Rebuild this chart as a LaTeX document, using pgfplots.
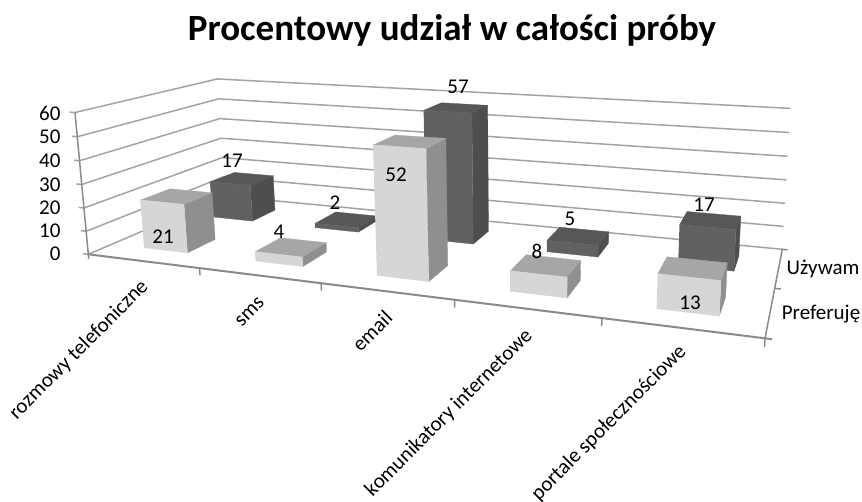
\documentclass[border=0pt]{standalone}
\usepackage{fontspec}
\setmainfont{Carlito}
\usepackage{pgfplots}
\pgfplotsset{compat=1.18}
% perspective projection: (category u 0..5, depth v 0..2, value h 0..60) -> picture position
\newcommand\PW[3]{(1-0.042614*(#1)+0.110105*(#2)-0.0005*(#3))}
\newcommand\PX[3]{((88.3+102.74*(#1)+92.94*(#2)-0.25917*(#3))/\PW{#1}{#2}{#3})}
\newcommand\PY[3]{((254.3+2.384*(#1)-7.57*(#2)-2.4197*(#3))/\PW{#1}{#2}{#3})}
\pgfplotsset{table/project/.style={row sep=\\,
  x expr={\PX{\thisrow{u}}{\thisrow{v}}{\thisrow{h}}},
  y expr={\PY{\thisrow{u}}{\thisrow{v}}{\thisrow{h}}}}}
\newcommand\face[5]{\addplot[fill=#4,draw=#4,line width=0.3pt,forget plot] table[row sep=\\,
  x expr={\PX{#1+\thisrow{a}}{#2+\thisrow{b}}{#3*\thisrow{c}}},
  y expr={\PY{#1+\thisrow{a}}{#2+\thisrow{b}}{#3*\thisrow{c}}}]{#5};}
% \barbox{category}{series depth}{value}{front}{right}{top}
\newcommand\barbox[6]{%
  \face{#1}{#2}{#3}{#5}{a b c\\ 0.7 0.3 0\\ 0.7 0.7 0\\ 0.7 0.7 1\\ 0.7 0.3 1\\}
  \face{#1}{#2}{#3}{#6}{a b c\\ 0.3 0.3 1\\ 0.7 0.3 1\\ 0.7 0.7 1\\ 0.3 0.7 1\\}
  \face{#1}{#2}{#3}{#4}{a b c\\ 0.3 0.3 0\\ 0.7 0.3 0\\ 0.7 0.3 1\\ 0.3 0.3 1\\}
}
\newcommand\gridat[1]{\addplot[gridc,line width=1.5pt,forget plot] table[project]{u v h\\ 5 2 #1\\ 0 2 #1\\ 0 0 #1\\ -0.05 0 #1\\};}
\definecolor{gridc}{HTML}{A3A3A3}
\definecolor{axc}{HTML}{8A8A8A}
\definecolor{lf}{HTML}{D6D6D6}
\definecolor{lr}{HTML}{8F8F8F}
\definecolor{lt}{HTML}{A6A6A6}
\definecolor{df}{HTML}{616161}
\definecolor{dr}{HTML}{4E4E4E}
\definecolor{dt}{HTML}{575757}
\definecolor{txt}{HTML}{3A3A3A}
\newcommand\fs{\fontsize{21}{21}\selectfont}
\begin{document}
\begin{tikzpicture}[x=1pt,y=1pt]
\path[use as bounding box,clip] (0,0) rectangle (862,501);
\begin{axis}[at={(0,0)},anchor=south west,scale only axis,width=862pt,height=501pt,
  xmin=0,xmax=862,ymin=0,ymax=501,y dir=reverse,hide axis,clip=false,
  title={Procentowy udział w całości próby},
  title style={at={(0.5244,0.928)},anchor=center,font=\bfseries\fontsize{37}{37}\selectfont,text=black},
  every node/.append style={text=txt}]
\gridat{60}\gridat{50}\gridat{40}\gridat{30}\gridat{20}\gridat{10}\gridat{0}
% axes and ticks
\addplot[axc,line width=1.5pt,forget plot] table[project]{u v h\\ 0 0 60\\ 0 0 -2\\};
\addplot[axc,line width=2pt,forget plot] table[project]{u v h\\ 0 0 0\\ 5 0 0\\ 5.04 0 0\\};
\addplot[axc,line width=1.5pt,forget plot] table[project]{u v h\\ 5 0 -3\\ 5 0 0\\ 5 2 0\\ 5.04 2 0\\};
\addplot[axc,line width=1.5pt,forget plot] table[project]{u v h\\ 5 1 0\\ 5.04 1 0\\};
\addplot[axc,line width=1.5pt,forget plot] table[project]{u v h\\ 1 0 0\\ 1 0 -3\\};
\addplot[axc,line width=1.5pt,forget plot] table[project]{u v h\\ 2 0 0\\ 2 0 -3\\};
\addplot[axc,line width=1.5pt,forget plot] table[project]{u v h\\ 3 0 0\\ 3 0 -3\\};
\addplot[axc,line width=1.5pt,forget plot] table[project]{u v h\\ 4 0 0\\ 4 0 -3\\};
% Używam (back row)
\barbox{0}{1}{17}{df}{dr}{dt}
\barbox{1}{1}{2}{df}{dr}{dt}
\barbox{2}{1}{57}{df}{dr}{dt}
\barbox{3}{1}{5}{df}{dr}{dt}
\barbox{4}{1}{17}{df}{dr}{dt}
% Preferuję (front row)
\barbox{0}{0}{21}{lf}{lr}{lt}
\barbox{1}{0}{4}{lf}{lr}{lt}
\barbox{2}{0}{52}{lf}{lr}{lt}
\barbox{3}{0}{8}{lf}{lr}{lt}
\barbox{4}{0}{13}{lf}{lr}{lt}
% value tick labels
\foreach \v/\y in {60/113,50/137,40/161,30/185,20/208,10/231,0/254}{
  \edef\tmp{\noexpand\node[anchor=east,font=\noexpand\fs] at (axis cs:64,\y) {\v};}\tmp}
% data labels
\foreach \v/\x/\y in {21/163/237,17/232/161,4/279/232,2/335/203,52/396/175,57/458/87,8/537/251,5/570/219,17/704/205,13/690/303}{
  \edef\tmp{\noexpand\node[font=\noexpand\fs] at (axis cs:\x,\y) {\v};}\tmp}
% series labels
\node[font=\fs] at (axis cs:823,269) {Używam};
\node[font=\fs] at (axis cs:821,314) {Preferuję};
% category labels
\node[rotate=45,font=\fs] at (axis cs:79,350) {rozmowy telefoniczne};
\node[rotate=45,font=\fs] at (axis cs:250,312) {sms};
\node[rotate=45,font=\fs] at (axis cs:372,331) {email};
\node[rotate=45,font=\fs] at (axis cs:449,413) {komunikatory internetowe};
\node[rotate=45,font=\fs] at (axis cs:609,423) {portale społecznościowe};
\end{axis}
\end{tikzpicture}
\end{document}
